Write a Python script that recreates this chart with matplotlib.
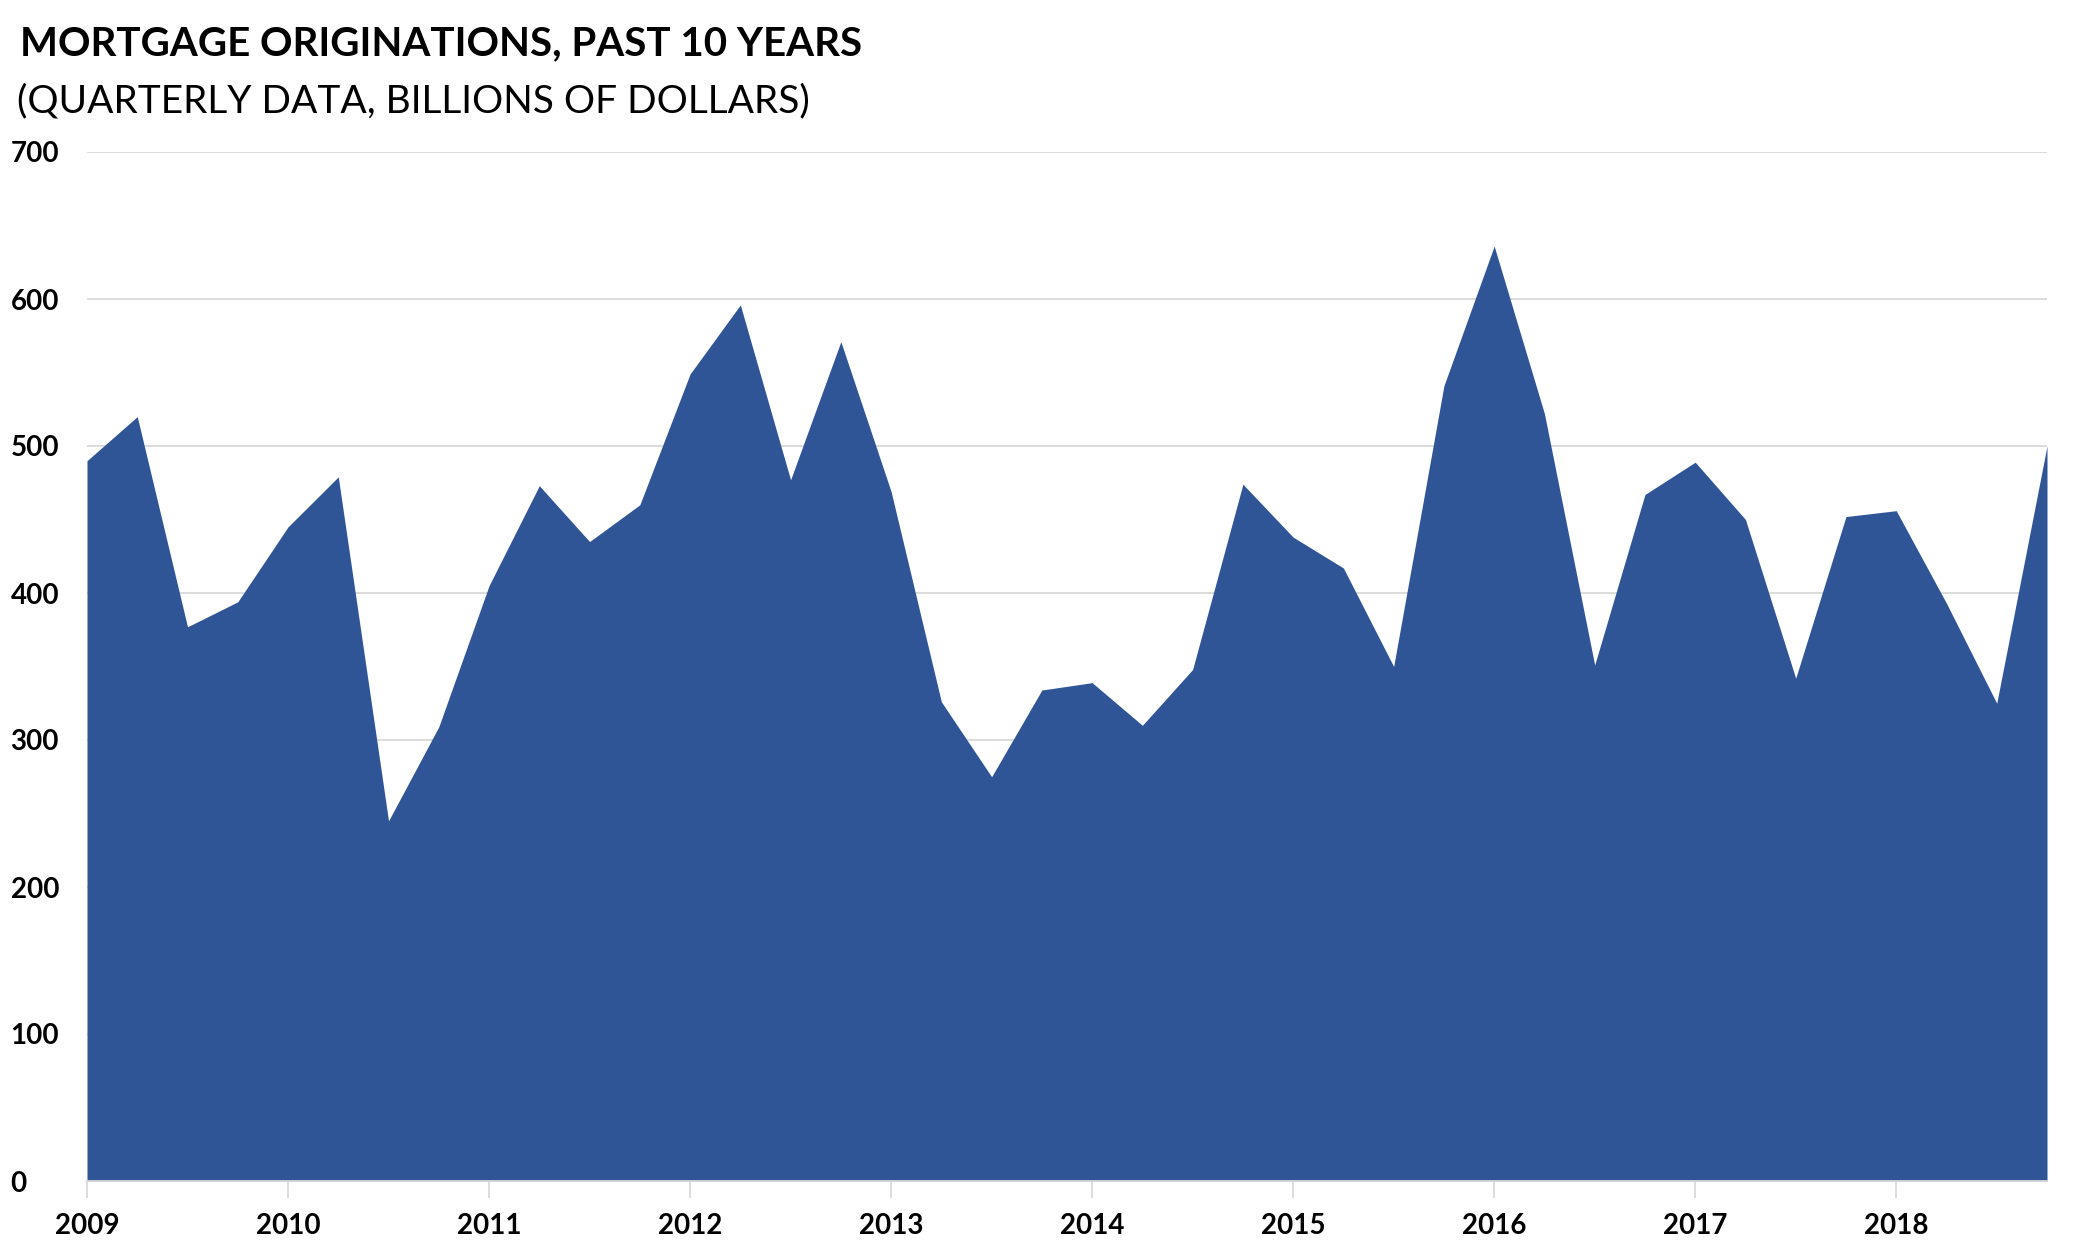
import matplotlib
matplotlib.use("Agg")
import matplotlib.pyplot as plt
import numpy as np

# quarterly mortgage originations, billions of dollars, 2009Q1 - 2018Q4
years = ["2009", "2010", "2011", "2012", "2013", "2014", "2015", "2016", "2017", "2018"]
originations = [
    490, 520, 377, 394,   # 2009
    445, 479, 245, 309,   # 2010
    405, 473, 435, 460,   # 2011
    549, 596, 477, 571,   # 2012
    469, 326, 275, 334,   # 2013
    339, 310, 348, 474,   # 2014
    438, 417, 350, 541,   # 2015
    636, 522, 351, 467,   # 2016
    489, 450, 342, 452,   # 2017
    456, 393, 325, 500,   # 2018
]
y_ticks = [0, 100, 200, 300, 400, 500, 600, 700]

title = "MORTGAGE ORIGINATIONS, PAST 10 YEARS"
subtitle = "(QUARTERLY DATA, BILLIONS OF DOLLARS)"

plt.rcParams['font.family'] = ['Lato', 'DejaVu Sans']

fig = plt.figure(figsize=(20.94, 12.5), dpi=100)
ax = fig.add_axes([87 / 2094, 1 - 1181 / 1250, (2047 - 87) / 2094, (1181 - 152) / 1250])

x = np.arange(len(originations))
ax.fill_between(x, originations, 0, color="#2F5597", linewidth=0, zorder=2)

ax.set_xlim(0, len(originations) - 1)
ax.set_ylim(0, 700)
ax.set_yticks(y_ticks)
ax.set_yticklabels([str(v) for v in y_ticks], fontsize=20, fontweight="bold", ha="left")
ax.set_xticks(np.arange(0, len(originations), 4))
ax.set_xticklabels(years, fontsize=20, fontweight="bold")

ax.grid(axis="y", color="#D9D9D9", linewidth=1.3, zorder=1)
ax.set_axisbelow(True)
for side in ["top", "right", "left"]:
    ax.spines[side].set_visible(False)
ax.spines["bottom"].set_color("#D9D9D9")
ax.spines["bottom"].set_linewidth(1.3)
ax.spines["bottom"].set_zorder(3)

ax.tick_params(axis="y", length=0, pad=55)
ax.tick_params(axis="x", length=12, width=1.3, color="#D9D9D9", pad=11)

fig.text(20 / 2094, 1 - 44 / 1250, title, fontsize=29, fontweight="bold", va="center", ha="left")
fig.text(17 / 2094, 1 - 101 / 1250, subtitle, fontsize=28, va="center", ha="left")

fig.savefig("out.png", dpi=100, facecolor="white")
